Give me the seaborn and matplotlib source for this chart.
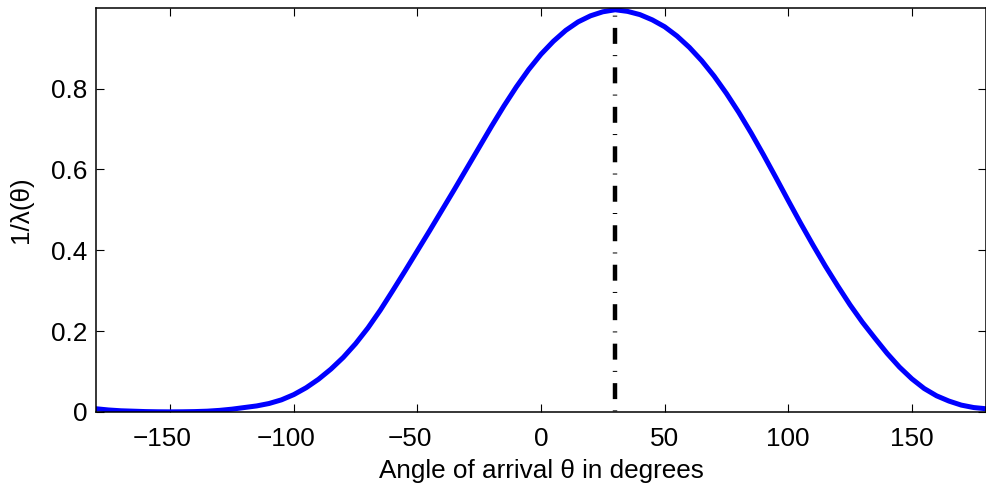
import matplotlib
matplotlib.use("Agg")
import matplotlib.pyplot as plt
import matplotlib.transforms as mtransforms
import seaborn as sns

# Spatial response 1/lambda(theta) sampled every 5 degrees of arrival angle
angles = list(range(-180, 181, 5))
response = [
    0.008, 0.005, 0.003, 0.002, 0.001, 0.0005, 0.0003, 0.0005, 0.001, 0.002,   # -180 .. -135
    0.004, 0.007, 0.011, 0.015, 0.021, 0.030, 0.043, 0.060, 0.081, 0.106,      # -130 .. -85
    0.135, 0.169, 0.208, 0.252, 0.300, 0.349, 0.399, 0.449, 0.500, 0.551,      # -80 .. -35
    0.603, 0.655, 0.707, 0.757, 0.804, 0.847, 0.885, 0.917, 0.944, 0.965,      # -30 .. 15
    0.980, 0.990, 0.995, 0.991, 0.983, 0.970, 0.953, 0.930, 0.902, 0.869,      # 20 .. 65
    0.831, 0.788, 0.741, 0.690, 0.636, 0.580, 0.523, 0.467, 0.413, 0.361,      # 70 .. 115
    0.312, 0.265, 0.222, 0.183, 0.145, 0.111, 0.082, 0.058, 0.040, 0.027,      # 120 .. 165
    0.017, 0.011, 0.008,                                                       # 170 .. 180
]

# Estimated direction of arrival
doa = 30

x_ticks = [-150, -100, -50, 0, 50, 100, 150]
x_tick_labels = ["\u2212150", "\u2212100", "\u221250", "0", "50", "100", "150"]
y_ticks = [0, 0.2, 0.4, 0.6, 0.8]
y_tick_labels = ["0", "0.2", "0.4", "0.6", "0.8"]

sns.set_theme(style="ticks", rc={"text.color": "black",
                                 "axes.labelcolor": "black",
                                 "axes.edgecolor": "black",
                                 "xtick.color": "black",
                                 "ytick.color": "black"})
plt.rcParams["font.family"] = ["Liberation Sans", "DejaVu Sans"]
plt.rcParams["lines.scale_dashes"] = False

fs = 18.8

fig = plt.figure(figsize=(9.87, 4.84), dpi=100)
ax = fig.add_axes([0.0973, 0.1488, 0.9017, 0.8352])

sns.lineplot(x=angles, y=response, ax=ax, color=(0, 0, 1), linewidth=3.6,
             sort=False, estimator=None)

# dash-dot marker line at the estimated angle, drawn from the top down
ax.plot([doa, doa], [1, 0], color="black", linewidth=3.2,
        linestyle=(14.1, (11.5, 8.1, 0.72, 8.1)), dash_capstyle="butt")

ax.set_xlim(-180, 180)
ax.set_ylim(0, 1)
ax.set_xticks(x_ticks)
ax.set_xticklabels(x_tick_labels)
ax.set_yticks(y_ticks)
ax.set_yticklabels(y_tick_labels)

ax.tick_params(direction="in", length=6, width=0.8, top=True, right=True,
               labelsize=fs, colors="black")
ax.tick_params(axis="x", pad=10.5)
ax.tick_params(axis="y", pad=6)
for s in ax.spines.values():
    s.set_visible(True)
    s.set_linewidth(1.1)
    s.set_color("black")

# negative labels sit slightly left of their ticks
shift = mtransforms.ScaledTranslation(-0.08, 0, fig.dpi_scale_trans)
for lab, v in zip(ax.get_xticklabels(), x_ticks):
    if v < 0:
        lab.set_transform(lab.get_transform() + shift)

ax.set_xlabel("Angle of arrival \u03b8 in degrees", fontsize=fs, labelpad=6,
              color="black")
ax.set_ylabel("1/\u03bb(\u03b8)", fontsize=fs, labelpad=13, color="black")

fig.savefig("out.png", dpi=100, facecolor="white")
